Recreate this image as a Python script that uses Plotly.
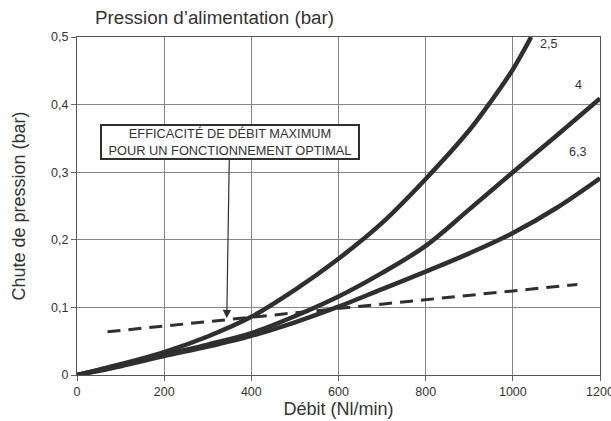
import plotly.graph_objects as go

# Flow rate (Nl/min) and pressure drop (bar) for each supply pressure
debit_25 = [0, 100, 200, 300, 400, 500, 600, 700, 800, 900, 950, 1000, 1042]
chute_25 = [0, 0.016, 0.034, 0.057, 0.086, 0.126, 0.172, 0.225, 0.29, 0.362, 0.405, 0.452, 0.5]

debit_4 = [0, 100, 200, 300, 400, 500, 600, 700, 800, 900, 1000, 1100, 1200]
chute_4 = [0, 0.014, 0.03, 0.045, 0.062, 0.087, 0.116, 0.151, 0.191, 0.245, 0.30, 0.354, 0.409]

debit_63 = [0, 100, 200, 300, 400, 500, 600, 700, 800, 900, 1000, 1100, 1200]
chute_63 = [0, 0.013, 0.028, 0.042, 0.058, 0.078, 0.101, 0.127, 0.153, 0.18, 0.21, 0.247, 0.291]

# Maximum-efficiency limit line
debit_lim = [70, 1148]
chute_lim = [0.064, 0.134]

x_ticks = [0, 200, 400, 600, 800, 1000, 1200]
x_labels = ["0", "200", "400", "600", "800", "1000", "1200"]
y_ticks = [0, 0.1, 0.2, 0.3, 0.4, 0.5]
y_labels = ["0", "0,1", "0,2", "0,3", "0,4", "0,5"]

FONT = "Arial, Liberation Sans, sans-serif"
INK = "#2f2f2f"

fig = go.Figure()
for xs, ys in [(debit_25, chute_25), (debit_4, chute_4), (debit_63, chute_63)]:
    fig.add_trace(go.Scatter(x=xs, y=ys, mode="lines",
                             line=dict(color=INK, width=4.5, shape="spline", smoothing=1.0),
                             showlegend=False, hoverinfo="skip"))
fig.add_trace(go.Scatter(x=debit_lim, y=chute_lim, mode="lines",
                         line=dict(color=INK, width=3, dash="13px,8px"),
                         showlegend=False, hoverinfo="skip"))

axis_common = dict(showline=True, linecolor="#555", linewidth=1, mirror=True,
                   showgrid=True, gridcolor="#868686", gridwidth=1,
                   ticks="outside", ticklen=5, tickcolor="#666", zeroline=False,
                   ticklabeloverflow="allow",
                   tickfont=dict(family=FONT, size=12.5, color="#333"))

fig.update_layout(
    template="none",
    width=611, height=421,
    margin=dict(l=77, r=11, t=37, b=46),
    paper_bgcolor="white", plot_bgcolor="white",
    font=dict(family=FONT, color="#333"),
    xaxis=dict(range=[0, 1200], tickmode="array", tickvals=x_ticks, ticktext=x_labels,
               title=dict(text="Débit (Nl/min)", font=dict(size=18), standoff=0),
               **axis_common),
    yaxis=dict(range=[0, 0.5], tickmode="array", tickvals=y_ticks, ticktext=y_labels,
               title=dict(text="Chute de pression (bar)", font=dict(size=18), standoff=20),
               **axis_common),
    annotations=[
        dict(text="Pression d’alimentation (bar)", xref="paper", yref="paper",
             x=0.03, y=1.0, xanchor="left", yanchor="bottom", yshift=7,
             showarrow=False, font=dict(size=18.8, color="#333")),
        dict(text="2,5", x=1082, y=0.49, showarrow=False, font=dict(size=12.5, color="#333")),
        dict(text="4", x=1151, y=0.429, showarrow=False, font=dict(size=12.5, color="#333")),
        dict(text="6,3", x=1149, y=0.33, showarrow=False, font=dict(size=12.5, color="#333")),
        dict(text="EFFICACITÉ DE DÉBIT MAXIMUM<br>POUR UN FONCTIONNEMENT OPTIMAL",
             x=343.6, y=0.084, ax=350, ay=0.345, axref="x", ayref="y",
             showarrow=True, arrowhead=2, arrowsize=1.4, arrowwidth=1.2, arrowcolor=INK,
             bordercolor=INK, borderwidth=2, borderpad=0, bgcolor="white",
             width=256, font=dict(size=12.8, color="#333")),
    ],
)

fig.write_html("out.html")
